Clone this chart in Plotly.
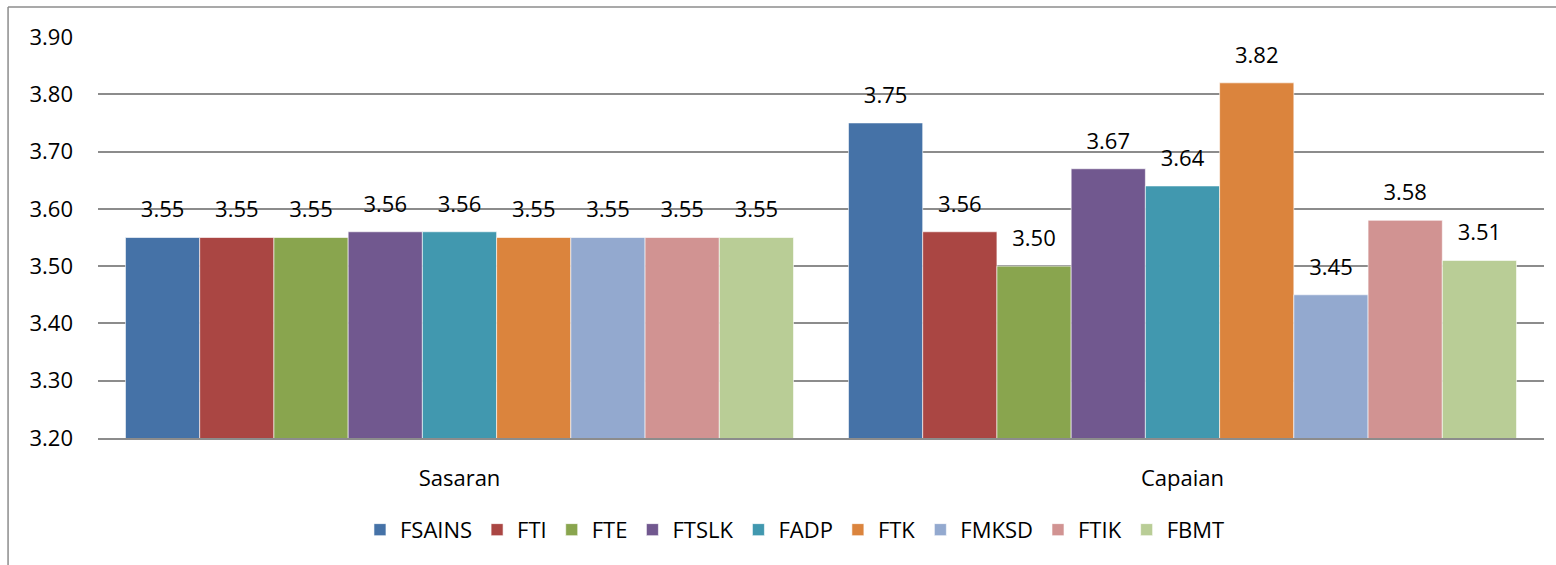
import plotly.graph_objects as go

categories = ["Sasaran", "Capaian"]
faculties = ["FSAINS", "FTI", "FTE", "FTSLK", "FADP", "FTK", "FMKSD", "FTIK", "FBMT"]
sasaran = [3.55, 3.55, 3.55, 3.56, 3.56, 3.55, 3.55, 3.55, 3.55]
capaian = [3.75, 3.56, 3.50, 3.67, 3.64, 3.82, 3.45, 3.58, 3.51]
colors = ["#4572A7", "#AA4643", "#89A54E", "#71588F", "#4198AF",
          "#DB843D", "#93A9CF", "#D19392", "#B9CD96"]
y_ticks = [3.20, 3.30, 3.40, 3.50, 3.60, 3.70, 3.80, 3.90]

FONT = "Open Sans"
SIZE = 22
GAP = 0.076

fig = go.Figure()
for i, name in enumerate(faculties):
    vals = [sasaran[i], capaian[i]]
    fig.add_trace(go.Bar(
        x=categories, y=vals, name=name, offsetgroup=str(i),
        marker=dict(color=colors[i], line=dict(color="white", width=0.6)),
    ))
for i, name in enumerate(faculties):
    vals = [sasaran[i], capaian[i]]
    fig.add_trace(go.Scatter(
        x=categories, y=vals, offsetgroup=str(i), mode="markers+text",
        text=[f"{v:.2f}" for v in vals], textposition="top center",
        textfont=dict(family=FONT, size=SIZE, color="#000"),
        marker=dict(size=22, opacity=0), showlegend=False, hoverinfo="skip",
        cliponaxis=False,
    ))

# outer chart frame (left and top edges)
frame = dict(color="#8c8c8c", width=1.5)
fig.add_shape(type="line", xref="paper", yref="paper",
              x0=-0.0622, x1=-0.0622, y0=1.0748, y1=-0.4, line=frame)
fig.add_shape(type="line", xref="paper", yref="paper",
              x0=-0.0622, x1=1.1, y0=1.0748, y1=1.0748, line=frame)

fig.update_layout(
    width=1556, height=565,
    margin=dict(l=98, r=12, t=37, b=127),
    paper_bgcolor="white", plot_bgcolor="white",
    barmode="group", bargap=GAP, bargroupgap=0,
    scattermode="group", scattergap=GAP,
    font=dict(family=FONT, size=SIZE, color="#000"),
    showlegend=True,
    legend=dict(orientation="h", x=0.482, xanchor="center", y=-0.229,
                yanchor="middle", font=dict(family=FONT, size=SIZE),
                traceorder="normal"),
    xaxis=dict(showgrid=False, showline=True, linecolor="#8c8c8c", linewidth=2,
               ticks="", ticklabelstandoff=20, tickfont=dict(size=SIZE)),
    yaxis=dict(range=[3.20, 3.90], tickvals=y_ticks,
               ticktext=[f"{v:.2f}" for v in y_ticks],
               showgrid=True, gridcolor="#8c8c8c", gridwidth=1.5,
               zeroline=False, showline=False, ticks="",
               ticklabelstandoff=24, tickfont=dict(size=SIZE)),
)

fig.write_html("out.html")
